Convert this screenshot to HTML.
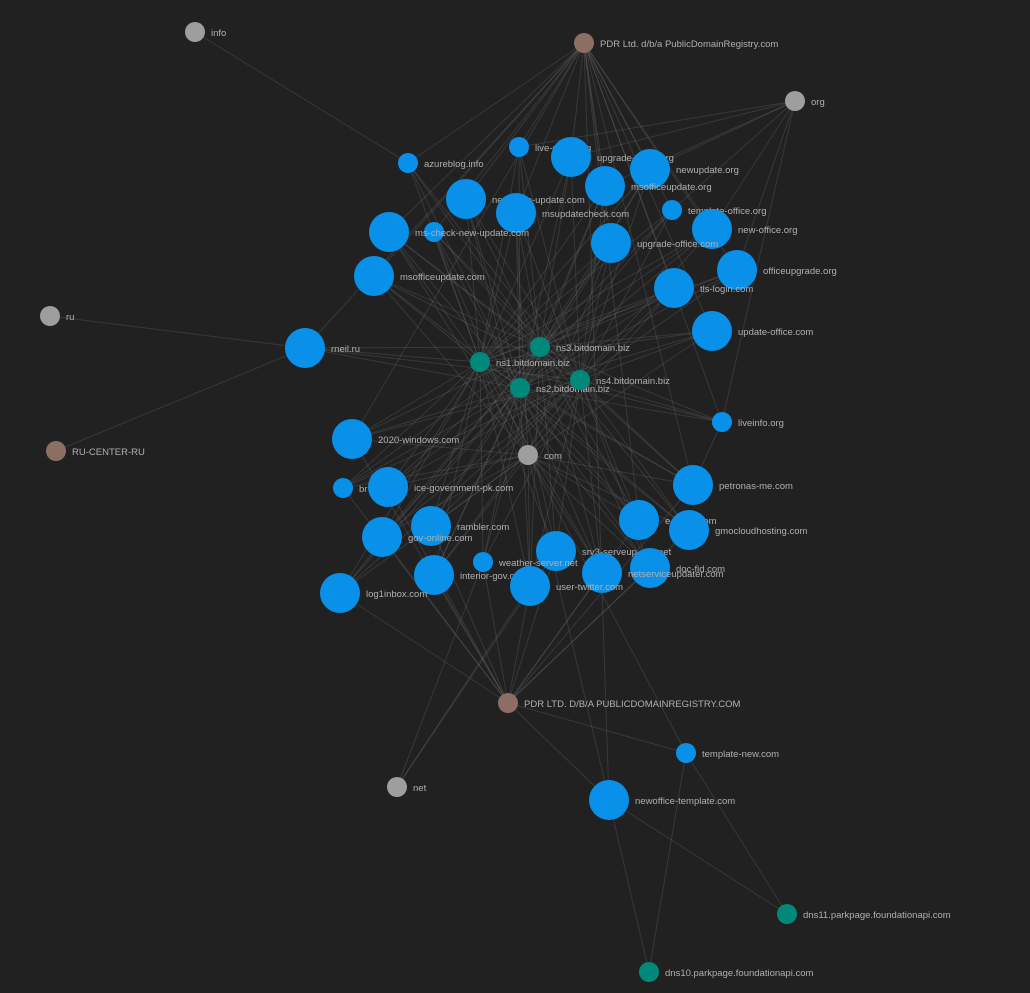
<!DOCTYPE html>
<html><head><meta charset="utf-8">
<style>
html,body{margin:0;padding:0;background:#212121;}
svg{display:block;}
text{font-family:"Liberation Sans",sans-serif;font-size:9.5px;fill:#b0b0b0;}
</style></head>
<body>
<svg id="g" width="1030" height="993" viewBox="0 0 1030 993" xmlns="http://www.w3.org/2000/svg">
<rect width="1030" height="993" fill="#212121"/>
<g id="edges" stroke="#6a6a6a" stroke-opacity="0.32" stroke-width="1"></g>
<g id="nodes"></g>
</svg>
<script>
(function(){
var G="#9e9e9e",B="#8d6e63",T="#00897b",L="#0991ea";
var N={
info:[195,32,10,G,"info"],org:[795,101,10,G,"org"],ru:[50,316,10,G,"ru"],com:[528,455,10,G,"com"],net:[397,787,10,G,"net"],
pdr1:[584,43,10,B,"PDR Ltd. d/b/a PublicDomainRegistry.com"],rucenter:[56,451,10,B,"RU-CENTER-RU"],pdr2:[508,703,10,B,"PDR LTD. D/B/A PUBLICDOMAINREGISTRY.COM"],
ns3:[540,347,10,T,"ns3.bitdomain.biz"],ns1:[480,362,10,T,"ns1.bitdomain.biz"],ns2:[520,388,10,T,"ns2.bitdomain.biz"],ns4:[580,380,10,T,"ns4.bitdomain.biz"],
dns11:[787,914,10,T,"dns11.parkpage.foundationapi.com"],dns10:[649,972,10,T,"dns10.parkpage.foundationapi.com"],
azure:[408,163,10,L,"azureblog.info"],live:[519,147,10,L,"live-office.org"],
upo:[571,157,20,L,"upgrade-office.org"],newupd:[650,169,20,L,"newupdate.org"],msou:[605,186,20,L,"msofficeupdate.org"],
tpo:[672,210,10,L,"template-office.org"],nou:[466,199,20,L,"newoffice-update.com"],msuc:[516,213,20,L,"msupdatecheck.com"],
small1:[434,232,10,L,""],mscheck:[389,232,20,L,"ms-check-new-update.com"],newoff:[712,229,20,L,"new-office.org"],
upc:[611,243,20,L,"upgrade-office.com"],msoc:[374,276,20,L,"msofficeupdate.com"],offup:[737,270,20,L,"officeupgrade.org"],
tls:[674,288,20,L,"tls-login.com"],updc:[712,331,20,L,"update-office.com"],meil:[305,348,20,L,"rneil.ru"],
liveinfo:[722,422,10,L,"liveinfo.org"],w2020:[352,439,20,L,"2020-windows.com"],petro:[693,485,20,L,"petronas-me.com"],
br:[343,488,10,L,"br"],egov:[388,487,20,L,"ice-government-pk.com"],eoff:[639,520,20,L,"e-office.com"],gmo:[689,530,20,L,"gmocloudhosting.com"],
ramb:[431,526,20,L,"rambler.com"],gov:[382,537,20,L,"gov-online.com"],srv3:[556,551,20,L,"srv3-serveup-ads.net"],
weather:[483,562,10,L,"weather-server.net"],docfid:[650,568,20,L,"doc-fid.com"],netsvc:[602,573,20,L,"netserviceupdater.com"],
interior:[434,575,20,L,"interior-gov.com"],utw:[530,586,20,L,"user-twitter.com"],log1:[340,593,20,L,"log1inbox.com"],
tnew:[686,753,10,L,"template-new.com"],notpl:[609,800,20,L,"newoffice-template.com"]
};
var topN=["live","upo","newupd","msou","tpo","nou","msuc","small1","mscheck","newoff","upc","msoc","offup","tls","updc","liveinfo","azure"];
var botN=["w2020","petro","br","egov","eoff","gmo","ramb","gov","srv3","weather","docfid","netsvc","interior","utw","log1"];
var orgs=["live","upo","newupd","msou","tpo","newoff","offup","liveinfo"];
var nets=["srv3","weather"];
var E=[["info","azure"],["ru","meil"],["rucenter","meil"],["pdr2","tnew"],["pdr2","notpl"],["tnew","dns11"],["tnew","dns10"],["notpl","dns11"],["notpl","dns10"],["com","tnew"],["com","notpl"],["liveinfo","petro"],["net","utw"]];
var nsL=["ns1","ns2","ns3","ns4"];
topN.concat(botN).concat(["meil"]).forEach(function(k){
  nsL.forEach(function(n){E.push([k,n]);});
  if(topN.indexOf(k)>=0) E.push([k,"pdr1"]); else if(k!="meil") E.push([k,"pdr2"]);
  if(orgs.indexOf(k)>=0) E.push([k,"org"]); else if(nets.indexOf(k)>=0) E.push([k,"net"]); else if(k!="azure"&&k!="meil") E.push([k,"com"]);
});
E.push(["meil","pdr1"]);E.push(["notpl","pdr1"]);E.push(["petro","pdr1"]);E.push(["w2020","pdr1"]);E.push(["eoff","pdr1"]);
var SV="http://www.w3.org/2000/svg";
var eg=document.getElementById("edges"),ng=document.getElementById("nodes");
E.forEach(function(e){var a=N[e[0]],b=N[e[1]];var l=document.createElementNS(SV,"line");
l.setAttribute("x1",a[0]);l.setAttribute("y1",a[1]);l.setAttribute("x2",b[0]);l.setAttribute("y2",b[1]);eg.appendChild(l);});
Object.keys(N).forEach(function(k){var n=N[k];
var c=document.createElementNS(SV,"circle");c.setAttribute("cx",n[0]);c.setAttribute("cy",n[1]);c.setAttribute("r",n[2]);c.setAttribute("fill",n[3]);ng.appendChild(c);
if(n[4]){var t=document.createElementNS(SV,"text");t.setAttribute("x",n[0]+n[2]+6);t.setAttribute("y",n[1]+4);t.textContent=n[4];ng.appendChild(t);}
});
})();
</script>
</body></html>
